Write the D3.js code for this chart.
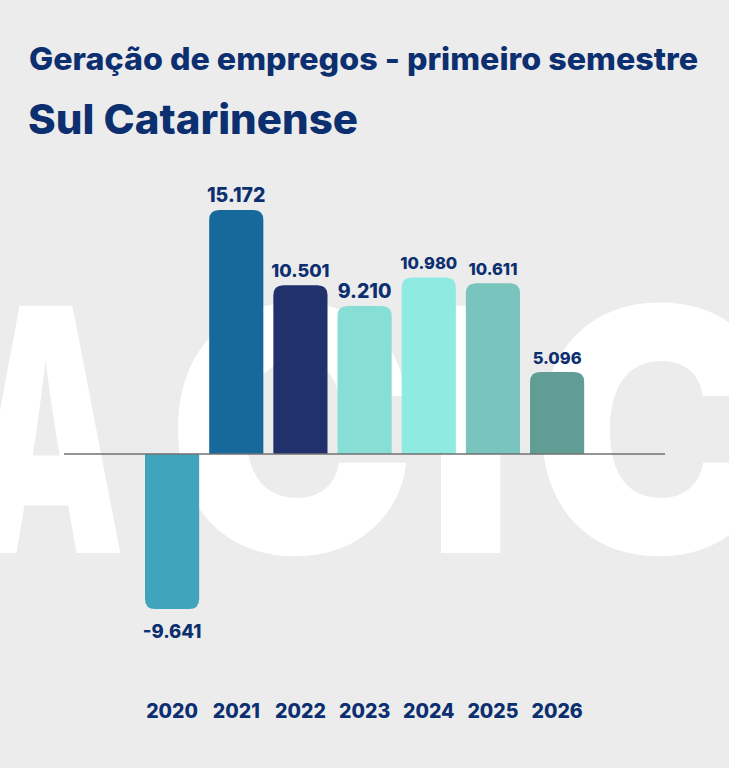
<!DOCTYPE html>
<html>
<head>
<meta charset="utf-8">
<script src="https://cdn.jsdelivr.net/npm/d3@7"></script>
<style>
  html, body { margin: 0; padding: 0; background: #ececec; }
  svg { display: block; }
</style>
</head>
<body>
<svg id="chart" width="729" height="768"></svg>
<script>
// ---- data ----
const years = ["2020", "2021", "2022", "2023", "2024", "2025", "2026"];
const values = [-9641, 15172, 10501, 9210, 10980, 10611, 5096];
const title = "Geração de empregos - primeiro semestre";
const subtitle = "Sul Catarinense";
const watermarkLetters = ["A", "C", "I", "C"];

// ---- style ----
const barColors = ["#40a4bd", "#18699b", "#21316b", "#86ded5", "#8feae2", "#79c4bd", "#5f9d95"];
const labelSizes = [18.5, 19.5, 18, 19.5, 16.5, 16.5, 16.5];
const navy = "#0c2f70";
const font = "Inter, 'Liberation Sans', Arial, sans-serif";

const W = 729, H = 768;
const svg = d3.select("#chart");
svg.append("rect").attr("width", W).attr("height", H).attr("fill", "#ececec");

// ---- watermark (big white letters) ----
const wmBoxes = [[-28, 122], [177, 407], [441, 502], [541, 771]];
const wmBase = 553, wmCap = 248;
const cv = document.createElement("canvas").getContext("2d");
cv.font = `900 100px Inter`;
const capAsc = cv.measureText("I").actualBoundingBoxAscent || 72.7;
const wmSize = wmCap * 100 / capAsc;
cv.font = `900 ${wmSize}px Inter`;
const wm = svg.append("g").attr("fill", "#ffffff").attr("aria-hidden", "true");
watermarkLetters.forEach((L, i) => {
  const m = cv.measureText(L);
  const inkW = m.actualBoundingBoxLeft + m.actualBoundingBoxRight;
  const [x0, x1] = wmBoxes[i];
  const s = (x1 - x0) / inkW;
  wm.append("text")
    .attr("transform", `translate(${x0 + m.actualBoundingBoxLeft * s},${wmBase}) scale(${s},1)`)
    .attr("font-family", "Inter")
    .attr("font-weight", 900)
    .attr("font-size", wmSize)
    .text(L);
});

// ---- titles ----
svg.append("text")
  .attr("x", 29).attr("y", 70)
  .attr("font-family", font).attr("font-weight", 800).attr("font-size", 31)
  .attr("fill", navy)
  .attr("textLength", 669).attr("lengthAdjust", "spacingAndGlyphs")
  .text(title);
svg.append("text")
  .attr("x", 28).attr("y", 134)
  .attr("font-family", font).attr("font-weight", 800).attr("font-size", 41)
  .attr("fill", navy)
  .attr("textLength", 330).attr("lengthAdjust", "spacingAndGlyphs")
  .text(subtitle);

// ---- scales ----
const x = d3.scaleBand().domain(years).range([135, 594.2]).padding(0.156);
const y = d3.scaleLinear().domain([-10000, 16000]).range([614.8, 196.7]);
const y0 = y(0);
const r = 10;

function barPath(d, i) {
  const x0 = x(years[i]), w = x.bandwidth(), x1 = x0 + w;
  const yv = y(d);
  if (d >= 0) {
    return `M${x0},${y0} L${x0},${yv + r} Q${x0},${yv} ${x0 + r},${yv} L${x1 - r},${yv} Q${x1},${yv} ${x1},${yv + r} L${x1},${y0} Z`;
  } else {
    return `M${x0},${y0} L${x0},${yv - r} Q${x0},${yv} ${x0 + r},${yv} L${x1 - r},${yv} Q${x1},${yv} ${x1},${yv - r} L${x1},${y0} Z`;
  }
}

svg.append("g").selectAll("path")
  .data(values)
  .join("path")
  .attr("d", barPath)
  .attr("fill", (d, i) => barColors[i]);

// zero line
svg.append("line")
  .attr("x1", 64).attr("x2", 665)
  .attr("y1", y0).attr("y2", y0)
  .attr("stroke", "#707070").attr("stroke-width", 1.5);

// value labels
const loc = d3.formatLocale({ decimal: ",", thousands: ".", grouping: [3], currency: ["R$", ""], minus: "-" });
const fmt = loc.format(",d");
svg.append("g").selectAll("text")
  .data(values)
  .join("text")
  .attr("x", (d, i) => x(years[i]) + x.bandwidth() / 2)
  .attr("y", d => d >= 0 ? y(d) - 8 : y(d) + 29)
  .attr("text-anchor", "middle")
  .attr("font-family", font).attr("font-weight", 800)
  .attr("font-size", (d, i) => labelSizes[i])
  .attr("fill", navy)
  .text(d => fmt(d));

// year axis
const axis = svg.append("g")
  .attr("transform", "translate(0,700)")
  .call(d3.axisBottom(x).tickSize(0).tickPadding(0));
axis.select(".domain").remove();
axis.selectAll("text")
  .attr("dy", 0).attr("y", 18)
  .attr("font-family", font).attr("font-weight", 800).attr("font-size", 19.5)
  .attr("fill", navy);
</script>
</body>
</html>
